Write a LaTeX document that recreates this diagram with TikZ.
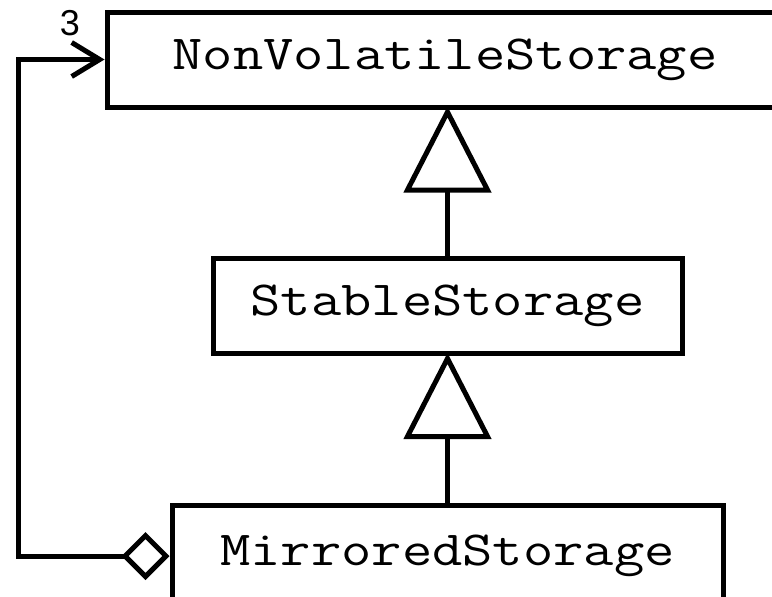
\documentclass[tikz,border=0pt]{standalone}
\usepackage{fontspec}
\newfontfamily\classfont[FakeStretch=1.2]{Latin Modern Mono}
\setsansfont{Liberation Sans}
\usetikzlibrary{arrows.meta}
\begin{document}
\begin{tikzpicture}[x=1pt, y=-1pt, line width=5pt,
  class/.style={draw, minimum height=95pt, inner sep=0pt, font=\classfont\fontsize{49}{58}\selectfont},
  inherit/.style={-{Triangle[open, length=86pt, width=87pt]}, shorten >=-3pt},
  aggr/.style={{Diamond[open, length=48pt, width=48pt]}-{Straight Barb[length=28pt, width=34pt]}}]
  \clip (0,0) rectangle (772,597);

  % Classes
  \node[class, minimum width=676pt] (nvs) at (445,59.5) {NonVolatileStorage};
  \node[class, minimum width=469pt] (ss) at (447.5,306) {StableStorage};
  \node[class, minimum width=551pt, minimum height=102pt] (ms) at (447.5,556) {MirroredStorage};

  % Generalisation
  \draw[inherit] (ss.north) -- (ss.north |- nvs.south);
  \draw[inherit] (ms.north) -- (ss.south);

  % Aggregation
  \draw[aggr] (ms.west) -- ++(-151,0) |- (nvs.west);
  \node[font=\sffamily\fontsize{36}{36}\selectfont] (mult) at (70,23) {3};
\end{tikzpicture}
\end{document}
